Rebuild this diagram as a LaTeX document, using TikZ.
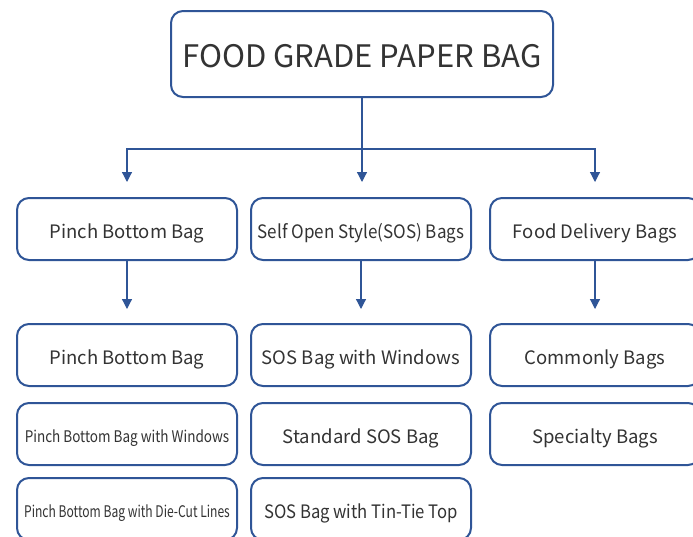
\documentclass[tikz,border=0pt]{standalone}
\usepackage{fontspec}
\setmainfont{Noto Sans CJK SC}
\usetikzlibrary{arrows.meta}

\definecolor{bagblue}{HTML}{2F5597}
\definecolor{bagtext}{HTML}{333333}

\tikzset{
    bagbox/.style={rectangle, rounded corners=12pt, draw=bagblue, line width=2pt,
        fill=white, text=bagtext, minimum width=220pt, minimum height=62pt,
        inner sep=0pt, text height=18.5pt, text depth=0pt,
        font=\fontsize{18.5}{20}\selectfont},
    link/.style={draw=bagblue, line width=1.2pt, -{Triangle[width=10pt,length=10pt]}},
    narrow/.style={font=\fontsize{16}{18}\selectfont, text height=16.7pt}
}

\begin{document}
\begin{tikzpicture}[x=1pt, y=-1pt]
    \useasboundingbox (0,0) rectangle (693,536);

    % title
    \node[bagbox, minimum width=382pt, minimum height=86pt, text height=27pt,
        font=\fontsize{31}{36}\selectfont] (top) at (362,54) {FOOD GRADE PAPER BAG};

    % second row
    \node[bagbox] (pinch) at (127,229) {Pinch Bottom Bag};
    \node[bagbox] (sos) at (361,229) {\scalebox{0.92}[1]{Self Open Style(SOS) Bags}};
    \node[bagbox, minimum width=210pt] (delivery) at (595,229) {Food Delivery Bags};

    % first column
    \node[bagbox] (pinchA) at (127,355) {Pinch Bottom Bag};
    \node[bagbox, narrow] (pinchB) at (127,434) {\scalebox{0.845}[1]{Pinch Bottom Bag with Windows}};
    \node[bagbox, narrow] (pinchC) at (127,509) {\scalebox{0.755}[1]{Pinch Bottom Bag with Die-Cut Lines}};

    % second column
    \node[bagbox] (sosA) at (361,355) {SOS Bag with Windows};
    \node[bagbox] (sosB) at (361,434) {Standard SOS Bag};
    \node[bagbox] (sosC) at (361,509) {\scalebox{0.9}[1]{SOS Bag with Tin-Tie Top}};

    % third column
    \node[bagbox, minimum width=210pt] (deliveryA) at (595,355) {Commonly Bags};
    \node[bagbox, minimum width=210pt] (deliveryB) at (595,434) {Specialty Bags};

    \coordinate (split) at (362,149);

    \draw[link, shorten >=15pt] (top.south) -- (top.south |- sos.north);
    \draw[link, shorten >=15pt] (split) -| (pinch.north);
    \draw[link, shorten >=15pt] (split) -| (delivery.north);

    \draw[link, shorten >=14pt] (pinch.south) -- (pinchA.north);
    \draw[link, shorten >=14pt] (sos.south) -- (sosA.north);
    \draw[link, shorten >=14pt] (delivery.south) -- (deliveryA.north);
\end{tikzpicture}
\end{document}
